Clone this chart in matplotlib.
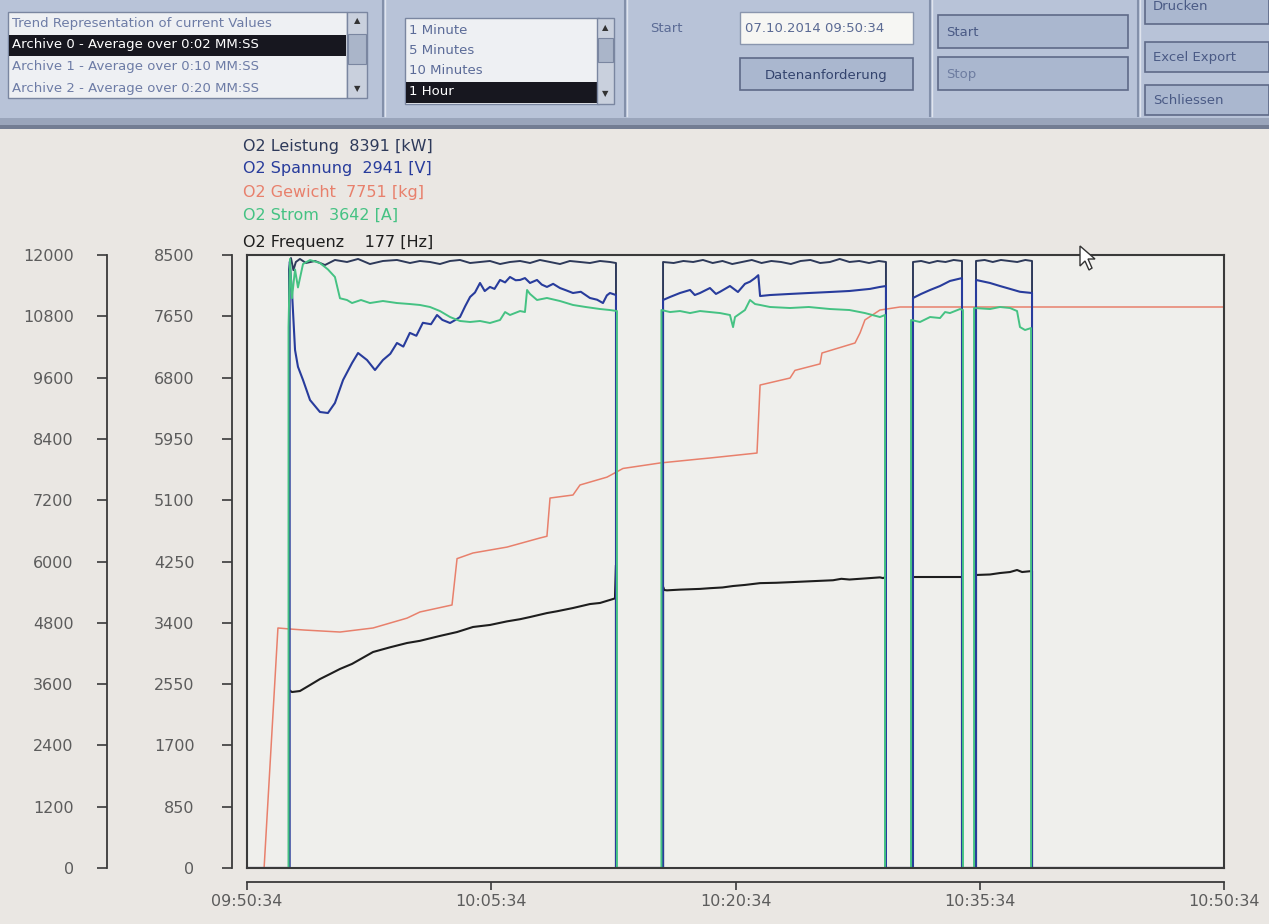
import matplotlib.pyplot as plt
from matplotlib.patches import Rectangle, Polygon

# time in minutes after 09:50:34, values on the 0..8500 scale (inner axis)
time_labels = ["09:50:34", "10:05:34", "10:20:34", "10:35:34", "10:50:34"]
time_ticks = [0, 15, 30, 45, 60]
ticks_outer = list(range(0, 12001, 1200))
ticks_inner = list(range(0, 8501, 850))

legend_names = ["O2 Leistung  8391 [kW]", "O2 Spannung  2941 [V]", "O2 Gewicht  7751 [kg]",
                "O2 Strom  3642 [A]", "O2 Frequenz    177 [Hz]"]

leistung_t = [0.0, 2.58, 2.58, 2.70, 2.85, 3.00, 3.25, 3.62, 4.18, 4.79, 5.40, 6.14, 6.82, 7.55,
              8.35, 9.21, 10.01, 10.62, 11.24, 11.85, 12.47, 13.08, 13.70, 14.31, 14.92, 15.54,
              16.15, 16.77, 17.38, 17.99, 18.61, 19.22, 19.83, 20.45, 21.06, 21.68, 22.29, 22.66,
              22.66, 25.55, 25.55, 26.2, 26.8, 27.4, 28.0, 28.6, 29.2, 29.8, 30.4, 31.0, 31.6,
              32.2, 32.8, 33.4, 34.0, 34.6, 35.2, 35.8, 36.4, 37.0, 37.6, 38.2, 38.8, 39.24,
              39.24, 40.9, 40.9, 41.4, 41.9, 42.4, 42.9, 43.4, 43.91, 43.91, 44.77, 44.77, 45.3,
              45.8, 46.3, 46.8, 47.3, 47.8, 48.21, 48.21, 60.0]
leistung_v = [0, 0, 8300, 8458, 8290, 8403, 8445, 8389, 8417, 8361, 8431, 8403, 8445, 8375,
              8417, 8431, 8389, 8417, 8403, 8375, 8417, 8431, 8389, 8403, 8417, 8375,
              8403, 8417, 8389, 8431, 8403, 8375, 8417, 8403, 8389, 8417, 8403, 8389,
              0, 0, 8403, 8389, 8417, 8403, 8431, 8389, 8417, 8375, 8403, 8431, 8389,
              8417, 8403, 8375, 8417, 8431, 8389, 8403, 8445, 8403, 8417, 8389, 8417, 8403,
              0, 0, 8403, 8417, 8389, 8417, 8403, 8431, 8417, 0, 0, 8417, 8431,
              8403, 8431, 8417, 8403, 8431, 8417, 0, 0]

spannung_t = [0.0, 2.62, 2.62, 2.76, 2.95, 3.13, 3.44, 3.87, 4.48, 4.97, 5.40, 5.90, 6.45, 6.82,
              7.37, 7.86, 8.35, 8.80, 9.21, 9.60, 10.00, 10.40, 10.80, 11.30, 11.67, 12.00, 12.47,
              12.80, 13.08, 13.40, 13.70, 14.00, 14.31, 14.60, 14.92, 15.20, 15.54, 15.85, 16.15,
              16.50, 16.77, 17.07, 17.38, 17.81, 18.10, 18.42, 18.80, 19.22, 19.60, 20.02, 20.50,
              21.06, 21.50, 21.86, 22.10, 22.29, 22.66,
              22.66, 25.55, 25.55, 25.98, 26.59, 27.21, 27.50, 27.82, 28.43, 28.80, 29.05, 29.66,
              30.15, 30.58, 30.89, 31.20, 31.40, 31.51, 32.12, 33.35, 34.50, 35.80, 37.00, 38.26,
              38.87, 39.24, 39.24, 40.9, 40.9, 41.4, 41.95, 42.56, 43.17, 43.91, 43.91, 44.77,
              44.77, 45.63, 46.24, 46.86, 47.47, 48.21, 48.21, 60.0]
spannung_v = [0, 0, 8403, 8000, 7183, 6950, 6767, 6489, 6323, 6309, 6448, 6767, 7002, 7141,
              7044, 6905, 7044, 7130, 7280, 7230, 7420, 7380, 7560, 7540, 7668, 7600, 7557,
              7600, 7640, 7790, 7918, 7980, 8112, 8000, 8057, 8030, 8154, 8120, 8195,
              8150, 8154, 8180, 8112, 8154, 8090, 8057, 8100, 8042, 8010, 7973, 7990,
              7904, 7880, 7834, 7940, 7973, 7945,
              0, 0, 7876, 7918, 7973, 8015, 7945, 7973, 8042, 7960, 7990, 8070,
              7987, 8100, 8130, 8180, 8220, 7931, 7945, 7960, 7973, 7987, 8001, 8030,
              8057, 8070, 0, 0, 7904, 7960, 8015, 8070, 8140, 8180, 0, 0,
              8154, 8112, 8070, 8030, 7990, 7973, 0, 0]

gewicht_t = [0.0, 1.05, 1.90, 2.64, 3.50, 5.71, 7.74, 9.83, 10.62, 12.59, 12.90, 13.88, 15.97,
             17.99, 18.42, 18.61, 20.02, 20.45, 22.11, 23.09, 25.36, 27.82, 28.43, 31.32, 31.51,
             33.35, 33.65, 35.19, 35.31, 37.34, 37.65, 37.95, 38.87, 40.10, 60.0]
gewicht_v = [0, 0, 3328, 3314, 3300, 3272, 3328, 3465, 3550, 3647, 4290, 4368, 4450,
             4576, 4600, 5130, 5172, 5311, 5420, 5540, 5616, 5672, 5685, 5754, 6697,
             6794, 6900, 6990, 7141, 7280, 7420, 7600, 7737, 7779, 7779]

strom_t = [0.0, 2.55, 2.55, 2.64, 2.76, 2.95, 3.13, 3.44, 3.87, 4.48, 4.97, 5.40, 5.71, 6.14,
           6.45, 7.00, 7.55, 8.35, 9.21, 10.01, 10.62, 11.24, 11.85, 12.47, 13.08, 13.70, 14.31,
           14.92, 15.54, 15.85, 16.15, 16.77, 17.07, 17.20, 17.38, 17.81, 18.42, 19.22, 20.02,
           20.80, 21.68, 22.29, 22.72, 22.72, 25.45, 25.45, 25.98, 26.59, 27.21, 27.82, 28.43,
           29.05, 29.66, 29.85, 29.97, 30.58, 30.89, 31.20, 31.51, 32.12, 33.35, 34.50, 35.80,
           37.00, 37.95, 38.87, 39.18, 39.18, 40.78, 40.78, 41.33, 41.95, 42.56, 42.87, 43.17,
           43.79, 43.97, 43.97, 44.65, 44.65, 45.63, 46.24, 46.86, 47.29, 47.47, 47.78, 48.15,
           48.15, 60.0]
strom_v = [0, 0, 7500, 8445, 7900, 8300, 8050, 8375, 8430, 8389, 8300, 8195, 7900, 7876,
           7834, 7876, 7834, 7862, 7834, 7820, 7807, 7779, 7723, 7640, 7585, 7571, 7585,
           7557, 7599, 7709, 7668, 7723, 7709, 8015, 7960, 7876, 7904, 7862, 7807,
           7779, 7751, 7737, 7723, 0, 0, 7737, 7709, 7723, 7695, 7723, 7709,
           7695, 7668, 7500, 7640, 7737, 7876, 7820, 7807, 7779, 7765, 7779, 7751,
           7737, 7695, 7640, 7668, 0, 0, 7599, 7571, 7640, 7626, 7709, 7695,
           7751, 7737, 0, 0, 7765, 7751, 7779, 7765, 7723, 7501, 7460, 7487,
           0, 0]

frequenz_t = [0.0, 2.58, 2.58, 2.76, 3.25, 3.87, 4.48, 5.10, 5.71, 6.45, 7.74, 8.78, 9.83, 10.62,
              11.85, 12.90, 13.88, 14.92, 15.97, 16.77, 17.38, 18.42, 19.04, 20.02, 21.06, 21.68,
              22.48, 22.60, 22.66, 22.66, 25.55, 25.55, 25.62, 25.79, 26.59, 27.82, 28.43, 29.20,
              29.85, 30.58, 31.51, 32.50, 33.53, 34.50, 35.99, 36.50, 37.00, 37.95, 38.87, 39.06,
              39.24, 39.24, 40.84, 40.84, 40.86, 43.91, 43.91, 44.77, 44.77, 45.63, 46.24, 46.86,
              47.29, 47.60, 48.21, 48.21, 60.0]
frequenz_v = [0, 0, 2468, 2440, 2454, 2537, 2620, 2690, 2760, 2830, 2995, 3060, 3120, 3150,
              3218, 3272, 3342, 3370, 3420, 3450, 3480, 3535, 3560, 3605, 3660, 3675,
              3730, 3740, 4200, 0, 0, 3900, 3855, 3850, 3860, 3870, 3880, 3890,
              3910, 3925, 3950, 3955, 3965, 3975, 3990, 4010, 4000, 4015, 4030, 4020,
              4035, 0, 0, 5340, 4035, 4035, 0, 0, 4063, 4070, 4090, 4104,
              4132, 4104, 4118, 0, 0]

colors = ["#2e3a5a", "#283c9c", "#e8806c", "#45c283", "#1e1e1e"]

fig = plt.figure(figsize=(12.69, 9.24), dpi=100)
fig.patch.set_facecolor("#eae7e3")

# screen panel drawn in pixel coordinates
ui = fig.add_axes([0, 0, 1, 1], zorder=0)
ui.set_xlim(0, 1269)
ui.set_ylim(924, 0)
ui.axis("off")

ui.add_patch(Rectangle((0, 0), 1269, 120, facecolor="#b8c3d8", edgecolor="none"))
ui.add_patch(Rectangle((0, 118), 1269, 8, facecolor="#9aa5bb", edgecolor="none"))
ui.add_patch(Rectangle((0, 125), 1269, 4, facecolor="#737d93", edgecolor="none"))
for xd in [383, 625, 930, 1138]:
    ui.plot([xd, xd], [0, 116], color="#8390aa", lw=1.5)
    ui.plot([xd + 2, xd + 2], [0, 116], color="#dfe4ee", lw=1)

ui_font = dict(family="DejaVu Sans", fontsize=9.5)

# list box 1
archive_rows = ["Trend Representation of current Values", "Archive 0 - Average over 0:02 MM:SS",
                "Archive 1 - Average over 0:10 MM:SS", "Archive 2 - Average over 0:20 MM:SS"]
ui.add_patch(Rectangle((8, 12), 339, 86, facecolor="#eef0f3", edgecolor="#7a86a0", lw=1))
ui.add_patch(Rectangle((9, 35), 337, 21, facecolor="#17171f", edgecolor="none"))
for i, row in enumerate(archive_rows):
    ui.text(12, 23 + i * 21.7, row, color="white" if i == 1 else "#6d7ca6",
            va="center", ha="left", **ui_font)
ui.add_patch(Rectangle((347, 12), 20, 86, facecolor="#c9d0dd", edgecolor="#7a86a0", lw=1))
ui.add_patch(Rectangle((348, 34), 18, 30, facecolor="#aab5c9", edgecolor="#7a86a0", lw=0.8))
ui.text(357, 21, "▲", fontsize=6, ha="center", va="center", color="#333")
ui.text(357, 89, "▼", fontsize=6, ha="center", va="center", color="#333")

# list box 2
span_rows = ["1 Minute", "5 Minutes", "10 Minutes", "1 Hour"]
ui.add_patch(Rectangle((405, 18), 194, 86, facecolor="#eef0f3", edgecolor="#7a86a0", lw=1))
ui.add_patch(Rectangle((406, 82), 192, 21, facecolor="#17171f", edgecolor="none"))
for i, row in enumerate(span_rows):
    ui.text(409, 30 + i * 20.5, row, color="white" if i == 3 else "#5b6b98",
            va="center", ha="left", **ui_font)
ui.add_patch(Rectangle((597, 18), 17, 86, facecolor="#c9d0dd", edgecolor="#7a86a0", lw=1))
ui.add_patch(Rectangle((598, 38), 15, 24, facecolor="#aab5c9", edgecolor="#7a86a0", lw=0.8))
ui.text(605, 28, "▲", fontsize=6, ha="center", va="center", color="#333")
ui.text(605, 94, "▼", fontsize=6, ha="center", va="center", color="#333")

# start field and buttons
ui.text(650, 29, "Start", color="#5b6b95", va="center", **ui_font)
ui.add_patch(Rectangle((740, 12), 173, 32, facecolor="#f6f6f3", edgecolor="#8a96ae", lw=1))
ui.text(745, 28, "07.10.2014 09:50:34", color="#5a6a94", va="center", **ui_font)
buttons = [((740, 58, 173, 32), "Datenanforderung", "#34446e"),
           ((938, 15, 190, 33), "Start", "#4a5a85"),
           ((938, 57, 190, 33), "Stop", "#6d7ca0"),
           ((1145, -12, 124, 36), "Drucken", "#4a5a85"),
           ((1145, 42, 124, 30), "Excel Export", "#4a5a85"),
           ((1145, 85, 124, 30), "Schliessen", "#4a5a85")]
for (bx, by, bw, bh), label, tc in buttons:
    ui.add_patch(Rectangle((bx, by), bw, bh, facecolor="#aab7cf", edgecolor="#5e6a88", lw=1.2))
    tx = bx + bw / 2 if label == "Datenanforderung" else bx + 8
    ui.text(tx, by + bh / 2 + 1, label, color=tc, va="center",
            ha="center" if label == "Datenanforderung" else "left", **ui_font)

# series legend
legend_y = [146, 169, 192, 215, 242]
for name, yy, c in zip(legend_names, legend_y, colors):
    ui.text(243, yy, name, color=c, fontsize=11.5, va="center", ha="left")

# trend plot
ax = fig.add_axes([247 / 1269, 1 - 868 / 924, 977 / 1269, 613 / 924], zorder=1)
ax.set_facecolor("#efefec")
ax.set_xlim(0, 60)
ax.set_ylim(0, 8500)
ax.tick_params(left=False, bottom=False, labelleft=False, labelbottom=False)
for s in ax.spines.values():
    s.set_color("#3a3a3a")
    s.set_linewidth(1.5)

ax.plot(leistung_t, leistung_v, color=colors[0], lw=1.4)
ax.plot(frequenz_t, frequenz_v, color=colors[4], lw=1.5)
ax.plot(gewicht_t, gewicht_v, color=colors[2], lw=1.1)
ax.plot(spannung_t, spannung_v, color=colors[1], lw=1.5)
ax.plot(strom_t, strom_v, color=colors[3], lw=1.4)

tick_color = "#5c5c5c"
inner = ax.secondary_yaxis(-15 / 977)
inner.set_yticks(ticks_inner)
inner.tick_params(direction="out", length=7, width=1.2, pad=20, labelsize=11.5,
                  labelcolor=tick_color, color="#3a3a3a")
inner.spines["left"].set_color("#3a3a3a")
inner.spines["left"].set_linewidth(1.3)

outer = ax.secondary_yaxis(-140 / 977, functions=(lambda v: v * 12000 / 8500,
                                                  lambda v: v * 8500 / 12000))
outer.set_yticks(ticks_outer)
outer.tick_params(direction="out", length=7, width=1.2, pad=17, labelsize=11.5,
                  labelcolor=tick_color, color="#3a3a3a")
outer.spines["left"].set_color("#3a3a3a")
outer.spines["left"].set_linewidth(1.3)

timeax = ax.secondary_xaxis(-14 / 613)
timeax.set_xticks(time_ticks, labels=time_labels)
timeax.tick_params(direction="out", length=6, width=1.2, pad=3, labelsize=11.5,
                   labelcolor=tick_color, color="#3a3a3a")
timeax.spines["bottom"].set_color("#3a3a3a")
timeax.spines["bottom"].set_linewidth(1.3)

# mouse pointer on the screen
pointer = Polygon([(1080, 246), (1080, 266), (1085, 261), (1089, 270), (1092, 268),
                   (1088, 259), (1095, 259)], closed=True, facecolor="white",
                  edgecolor="#333", lw=1, transform=ui.transData, zorder=5)
fig.add_artist(pointer)

fig.savefig("out.png", dpi=100)
